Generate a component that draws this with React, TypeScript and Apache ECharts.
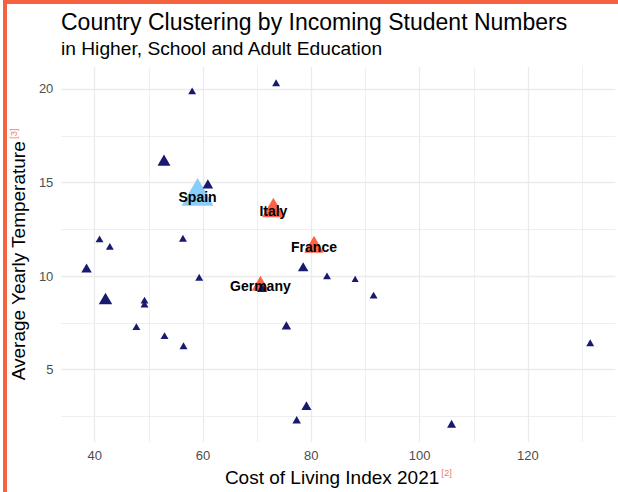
import React, { useEffect, useRef } from "react";
import * as echarts from "echarts";

// Other countries (navy)
const otherCost = [58.0, 73.5, 52.8, 60.9, 40.9, 42.8, 56.3, 38.5, 78.5, 59.3, 82.9, 88.1, 91.5, 42.0, 49.2, 49.2, 47.7, 75.4, 52.9, 56.4, 79.1, 77.3, 131.5, 105.9, 70.9];
const otherTemp = [19.84, 20.27, 16.1, 14.85, 11.93, 11.53, 11.96, 10.35, 10.42, 9.88, 9.95, 9.8, 8.92, 8.7, 8.66, 8.45, 7.24, 7.3, 6.76, 6.22, 3.0, 2.26, 6.38, 2.04, 9.3];
const otherStudents = [10, 10, 27, 17.6, 10, 10, 10, 17.6, 17.6, 10, 10, 8, 10, 29, 10, 10, 10, 14.5, 10, 10, 16, 11.5, 10, 13, 16];

// Highlighted countries
const hlNames = ["Spain", "Italy", "France", "Germany"];
const hlCost = [59.0, 73.0, 80.5, 70.6];
const hlTemp = [14.25, 13.49, 11.55, 9.48];
const hlStudents = [164, 82, 61, 48];
const hlGroup = ["top", "high", "high", "high"];

const xLabels = [40, 60, 80, 100, 120];
const xMinor = [50, 70, 90, 110, 130];
const yLabels = [5, 10, 15, 20];
const yMinor = [2.5, 7.5, 12.5, 17.5];

const NAVY = "#191970";
const SKY = "#87CEFA";
const TOMATO = "#FF6347";
const FONT = "'Liberation Sans', Arial, Helvetica, sans-serif";

function tri(students: number) {
  const w = 2.5 * Math.sqrt(students);
  const h = w * 0.866;
  return { symbolSize: [w, h], symbolOffset: [0, -h / 6] };
}

export default function App() {
  const ref = useRef<HTMLDivElement>(null);
  useEffect(() => {
    if (!ref.current) return;
    const chart = echarts.init(ref.current, null, { renderer: "svg" });

    const navyData = otherCost.map((x, i) => ({
      value: [x, otherTemp[i]],
      ...tri(otherStudents[i]),
    }));
    const hlData = hlCost.map((x, i) => ({
      value: [x, hlTemp[i]],
      ...tri(hlStudents[i]),
      itemStyle: { color: hlGroup[i] === "top" ? SKY : TOMATO },
    }));
    const labelData = hlCost.map((x, i) => ({ value: [x, hlTemp[i]], name: hlNames[i] }));

    const gridLines = [
      ...xLabels.map((v) => ({ xAxis: v, lineStyle: { width: 1.3 } })),
      ...xMinor.map((v) => ({ xAxis: v, lineStyle: { width: 0.8 } })),
      ...yLabels.map((v) => ({ yAxis: v, lineStyle: { width: 1.3 } })),
      ...yMinor.map((v) => ({ yAxis: v, lineStyle: { width: 0.8 } })),
    ];

    const richName = {
      t: { fontSize: 19, color: "#000", fontFamily: FONT, lineHeight: 21 },
      s: { fontSize: 9.5, color: "#F4836B", fontFamily: FONT, verticalAlign: "top", padding: [0, 0, 0, 2] },
    };

    chart.setOption({
      animation: false,
      textStyle: { fontFamily: FONT },
      title: [
        {
          text: "Country Clustering by Incoming Student Numbers",
          left: 61,
          top: 10,
          padding: 0,
          textStyle: { fontFamily: FONT, fontSize: 23, fontWeight: "normal", color: "#000" },
        },
        {
          text: "in Higher, School and Adult Education",
          left: 61,
          top: 38.5,
          padding: 0,
          textStyle: { fontFamily: FONT, fontSize: 19.2, fontWeight: "normal", color: "#000" },
        },
      ],
      graphic: [
        { type: "rect", shape: { x: 3, y: 0, width: 4, height: 492 }, style: { fill: "#F4623F" }, silent: true },
        { type: "rect", shape: { x: 3, y: 0, width: 615, height: 4 }, style: { fill: "#F4623F" }, silent: true },
      ],
      grid: { left: 61, right: 2.6, top: 66.9, bottom: 49.6, containLabel: false },
      xAxis: {
        type: "value",
        min: 33.85,
        max: 136.15,
        axisLine: { show: false },
        axisTick: { show: false },
        splitLine: { show: false },
        axisLabel: {
          customValues: xLabels,
          color: "#4D4D4D",
          fontSize: 13,
          margin: 7,
          fontFamily: FONT,
        },
        name: "{t|Cost of Living Index 2021}{s|[2]}",
        nameLocation: "middle",
        nameGap: 24,
        nameTextStyle: { rich: richName },
      },
      yAxis: {
        type: "value",
        min: 1.13,
        max: 21.18,
        axisLine: { show: false },
        axisTick: { show: false },
        splitLine: { show: false },
        axisLabel: {
          customValues: yLabels,
          color: "#4D4D4D",
          fontSize: 13,
          margin: 8,
          fontFamily: FONT,
        },
        name: "{t|Average Yearly Temperature}{s|[3]}",
        nameLocation: "middle",
        nameRotate: 90,
        nameGap: 29,
        nameTextStyle: { rich: richName },
      },
      series: [
        {
          type: "scatter",
          data: [],
          z: 1,
          silent: true,
          markLine: {
            silent: true,
            z: 1,
            symbol: "none",
            label: { show: false },
            lineStyle: { color: "#EBEBEB", type: "solid", width: 1 },
            emphasis: { disabled: true },
            data: gridLines,
          },
        },
        {
          type: "scatter",
          symbol: "triangle",
          data: hlData,
          z: 10,
          itemStyle: { opacity: 1 },
        },
        {
          type: "scatter",
          symbol: "triangle",
          data: navyData,
          z: 11,
          itemStyle: { color: NAVY, opacity: 1 },
        },
        {
          type: "scatter",
          data: labelData,
          symbolSize: 1,
          z: 12,
          itemStyle: { color: "transparent" },
          label: {
            show: true,
            position: "inside",
            formatter: "{b}",
            color: "#000",
            opacity: 1,
            textBorderWidth: 0,
            fontSize: 14,
            fontWeight: "bold",
            fontFamily: FONT,
          },
        },
      ],
    });
    return () => chart.dispose();
  }, []);
  return (
    <div
      ref={ref}
      style={{ position: "fixed", left: 0, top: 0, width: 618, height: 492, background: "#fff" }}
    />
  );
}
